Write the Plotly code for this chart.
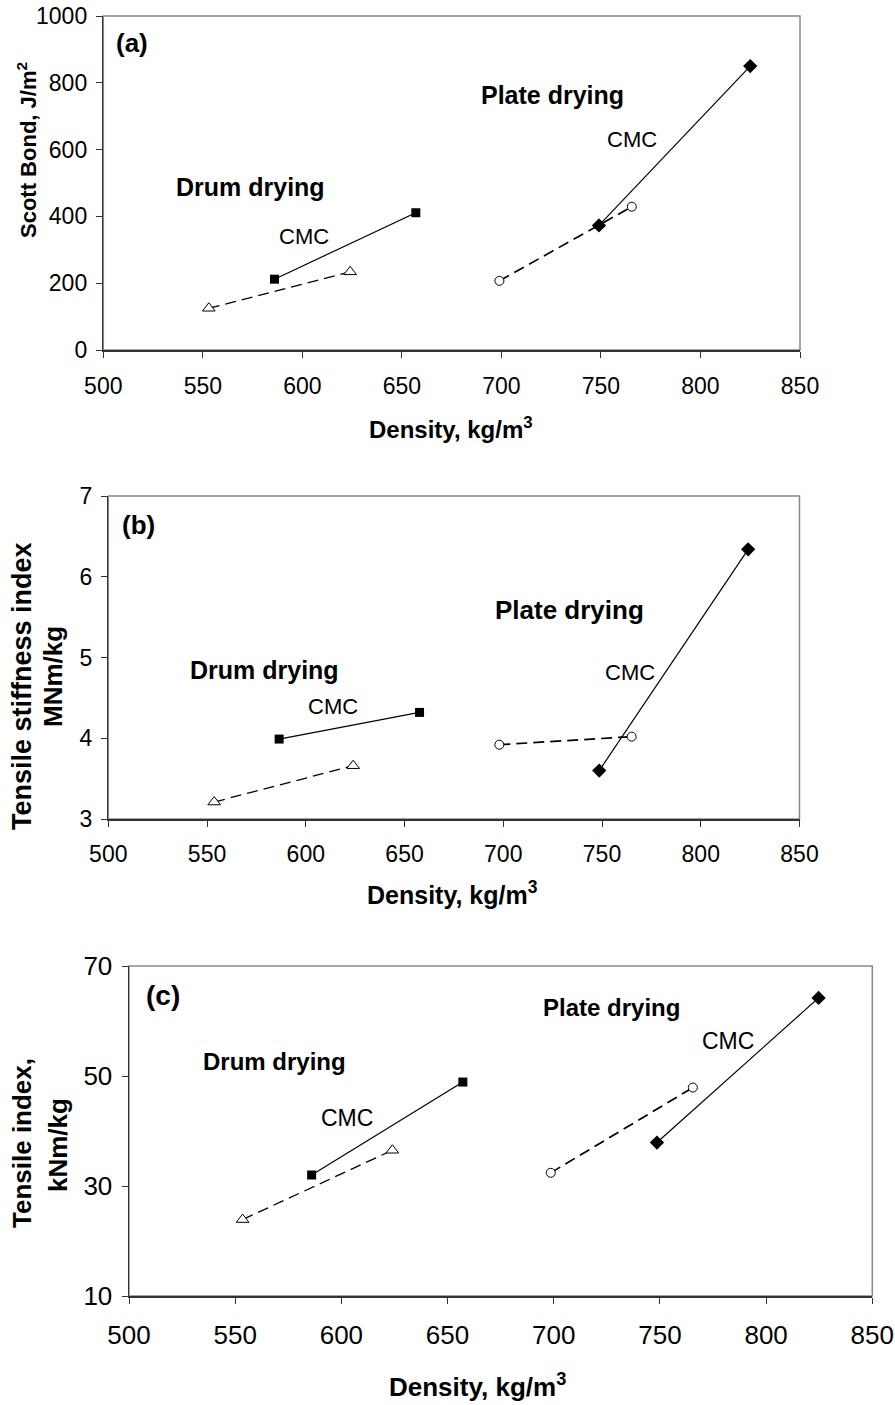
import plotly.graph_objects as go

# ---------------- data ----------------
# Panel (a): Scott Bond, J/m2
a_drum_cmc_x = [586, 657]
a_drum_cmc_y = [212, 411]
a_drum_ref_x = [553, 624]
a_drum_ref_y = [125, 234]
a_plate_cmc_x = [749, 825]
a_plate_cmc_y = [373, 850]
a_plate_ref_x = [699, 765.5]
a_plate_ref_y = [207, 429]

# Panel (b): Tensile stiffness index, MNm/kg
b_drum_cmc_x = [586.5, 657.6]
b_drum_cmc_y = [3.99, 4.32]
b_drum_ref_x = [553.6, 624]
b_drum_ref_y = [3.21, 3.66]
b_plate_cmc_x = [748.6, 824]
b_plate_cmc_y = [3.60, 6.34]
b_plate_ref_x = [698, 765]
b_plate_ref_y = [3.92, 4.02]

# Panel (c): Tensile index, kNm/kg
c_drum_cmc_x = [586, 657.2]
c_drum_cmc_y = [32.0, 48.9]
c_drum_ref_x = [553.5, 624]
c_drum_ref_y = [23.9, 36.5]
c_plate_cmc_x = [748.6, 824.7]
c_plate_cmc_y = [37.9, 64.2]
c_plate_ref_x = [698.6, 765.5]
c_plate_ref_y = [32.4, 47.9]

x_ticks = [500, 550, 600, 650, 700, 750, 800, 850]
a_yticks = [0, 200, 400, 600, 800, 1000]
b_yticks = [3, 4, 5, 6, 7]
c_yticks = [10, 30, 50, 70]

x_title = "Density, kg/m<sup>3</sup>"
a_ytitle = "Scott Bond, J/m<sup>2</sup>"
b_ytitle = ["Tensile stiffness index", "MNm/kg"]
c_ytitle = ["Tensile index,", "kNm/kg"]

# ---------------- layout helpers ----------------
W, H = 895, 1405
FONT = "Liberation Sans, Arial, sans-serif"

def px_dom_x(x0, x1):
    return [x0 / W, x1 / W]

def px_dom_y(top, bottom):
    return [1 - bottom / H, 1 - top / H]

panels = [
    dict(x0=103.3, x1=800, t=16, b=350, yr=[0, 1000], yt=a_yticks, fs=23, sx=9),
    dict(x0=108.3, x1=799.5, t=496, b=819, yr=[3, 7], yt=b_yticks, fs=23, sx=8),
    dict(x0=129, x1=872.3, t=966, b=1296, yr=[10, 70], yt=c_yticks, fs=26, sx=9),
]

fig = go.Figure()

series = [
    (a_drum_ref_x, a_drum_ref_y, a_drum_cmc_x, a_drum_cmc_y,
     a_plate_ref_x, a_plate_ref_y, a_plate_cmc_x, a_plate_cmc_y),
    (b_drum_ref_x, b_drum_ref_y, b_drum_cmc_x, b_drum_cmc_y,
     b_plate_ref_x, b_plate_ref_y, b_plate_cmc_x, b_plate_cmc_y),
    (c_drum_ref_x, c_drum_ref_y, c_drum_cmc_x, c_drum_cmc_y,
     c_plate_ref_x, c_plate_ref_y, c_plate_cmc_x, c_plate_cmc_y),
]

dash = "11px,6px"
for i, s in enumerate(series):
    xa = "x" if i == 0 else f"x{i+1}"
    ya = "y" if i == 0 else f"y{i+1}"
    drx, dry, dcx, dcy, prx, pry, pcx, pcy = s
    fig.add_trace(go.Scatter(x=drx, y=dry, mode="lines+markers", xaxis=xa, yaxis=ya,
                             line=dict(color="black", width=1.3, dash=dash),
                             marker=dict(symbol="triangle-up", size=11, color="white",
                                         line=dict(color="black", width=1)),
                             showlegend=False))
    fig.add_trace(go.Scatter(x=prx, y=pry, mode="lines+markers", xaxis=xa, yaxis=ya,
                             line=dict(color="black", width=1.7, dash=dash),
                             marker=dict(symbol="circle", size=9, color="white",
                                         line=dict(color="black", width=1)),
                             showlegend=False))
    fig.add_trace(go.Scatter(x=dcx, y=dcy, mode="lines+markers", xaxis=xa, yaxis=ya,
                             line=dict(color="black", width=1.2),
                             marker=dict(symbol="square", size=9, color="black"),
                             showlegend=False))
    fig.add_trace(go.Scatter(x=pcx, y=pcy, mode="lines+markers", xaxis=xa, yaxis=ya,
                             line=dict(color="black", width=1.2),
                             marker=dict(symbol="diamond", size=11, color="black"),
                             showlegend=False))

layout = dict(width=W, height=H, margin=dict(l=0, r=0, t=0, b=0, autoexpand=False),
              paper_bgcolor="white", plot_bgcolor="white", showlegend=False,
              font=dict(family=FONT, color="black"))

shapes = []
for i, p in enumerate(panels):
    xk = "xaxis" if i == 0 else f"xaxis{i+1}"
    yk = "yaxis" if i == 0 else f"yaxis{i+1}"
    xa = "x" if i == 0 else f"x{i+1}"
    ya = "y" if i == 0 else f"y{i+1}"
    layout[xk] = dict(domain=px_dom_x(p["x0"], p["x1"]), range=[500, 850],
                      anchor=ya, tickvals=x_ticks, ticks="outside", ticklen=6,
                      tickcolor="#333", showline=True, linecolor="#333", linewidth=1.5,
                      showgrid=False, zeroline=False, ticklabelstandoff=p["sx"],
                      automargin=False,
                      tickfont=dict(size=p["fs"], family=FONT, color="black"))
    layout[yk] = dict(domain=px_dom_y(p["t"], p["b"]), range=p["yr"],
                      anchor=xa, tickvals=p["yt"], ticks="outside", ticklen=6,
                      tickcolor="#333", showline=True, linecolor="#333", linewidth=1.5,
                      showgrid=False, zeroline=False, ticklabelstandoff=4,
                      automargin=False,
                      tickfont=dict(size=p["fs"], family=FONT, color="black"))
    shapes.append(dict(type="rect", xref=f"{xa} domain", yref=f"{ya} domain",
                       x0=0, x1=1, y0=0, y1=1, layer="below",
                       line=dict(color="#888", width=1.5)))
layout["shapes"] = shapes

ann = []
def txt(text, x, y, size, bold=False, xref="x", yref="y", angle=0):
    t = f"<b>{text}</b>" if bold else text
    ann.append(dict(text=t, x=x, y=y, xref=xref, yref=yref, showarrow=False,
                    xanchor="center", yanchor="middle", textangle=angle,
                    font=dict(size=size, family=FONT, color="black")))

# panel (a)
txt("(a)", 514.3, 919, 26, True, "x", "y")
txt("Drum drying", 573.7, 488, 25, True, "x", "y")
txt("CMC", 601, 341, 22, False, "x", "y")
txt("Plate drying", 725.5, 763, 25, True, "x", "y")
txt("CMC", 765.5, 630, 22, False, "x", "y")
# panel (b)
txt("(b)", 515.3, 6.64, 26, True, "x2", "y2")
txt("Drum drying", 579.2, 4.845, 25, True, "x2", "y2")
txt("CMC", 614, 4.39, 22, False, "x2", "y2")
txt("Plate drying", 733.7, 5.59, 26, True, "x2", "y2")
txt("CMC", 764.4, 4.82, 22, False, "x2", "y2")
# panel (c)
txt("(c)", 516.2, 64.7, 28, True, "x3", "y3")
txt("Drum drying", 568.5, 52.6, 24, True, "x3", "y3")
txt("CMC", 602.8, 42.3, 23, False, "x3", "y3")
txt("Plate drying", 727.4, 62.5, 24, True, "x3", "y3")
txt("CMC", 782, 56.4, 23, False, "x3", "y3")

# axis titles (paper coords)
txt(x_title, 451 / W, 1 - 428 / H, 24, True, "paper", "paper")
txt(x_title, 453 / W, 1 - 893 / H, 25, True, "paper", "paper")
txt(x_title, 477 / W, 1 - 1385 / H, 26, True, "paper", "paper")
txt(a_ytitle, 27 / W, 1 - 150 / H, 22, True, "paper", "paper", -90)
txt(b_ytitle[0], 22 / W, 1 - 686 / H, 27, True, "paper", "paper", -90)
txt(b_ytitle[1], 53 / W, 1 - 677 / H, 26, True, "paper", "paper", -90)
txt(c_ytitle[0], 22 / W, 1 - 1143 / H, 26, True, "paper", "paper", -90)
txt(c_ytitle[1], 58 / W, 1 - 1145 / H, 26, True, "paper", "paper", -90)
layout["annotations"] = ann

fig.update_layout(**layout)
fig.write_html("out.html", config={"displayModeBar": False, "staticPlot": True},
               post_script="document.body.style.margin='0';document.body.style.overflow='hidden';")
